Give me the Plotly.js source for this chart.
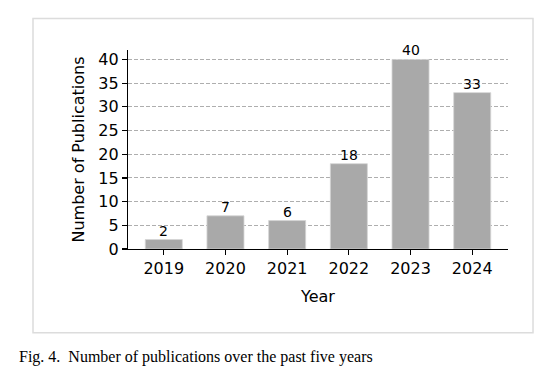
<!DOCTYPE html>
<html>
<head>
<meta charset="utf-8">
<script src="https://cdn.plot.ly/plotly-3.0.1.min.js"></script>
<style>html,body{margin:0;padding:0;background:#fff;}#chart{width:544px;height:384px;}</style>
</head>
<body>
<div id="chart"></div>
<script>
const years = ["2019", "2020", "2021", "2022", "2023", "2024"];
const publications = [2, 7, 6, 18, 40, 33];
const yTicks = [0, 5, 10, 15, 20, 25, 30, 35, 40];
const xTitle = "Year";
const yTitle = "Number of Publications";
const caption = "Fig. 4.&nbsp;&nbsp;Number of publications over the past five years";

const trace = {
  type: "bar",
  x: years,
  y: publications,
  width: 0.6,
  marker: {color: "#a9a9a9", line: {color: "#d4d4d4", width: 0.8}},
  hoverinfo: "none"
};

const barLabels = years.map((yr, i) => ({
  x: i, y: publications[i], xref: "x", yref: "y",
  text: String(publications[i]),
  xanchor: "center", yanchor: "bottom",
  showarrow: false, borderpad: 0, yshift: 0,
  font: {family: "DejaVu Sans", size: 14, color: "#000"}
}));

const layout = {
  width: 544,
  height: 384,
  margin: {l: 128, r: 36, t: 50, b: 135},
  paper_bgcolor: "#fff",
  plot_bgcolor: "#fff",
  showlegend: false,
  font: {family: "DejaVu Sans", size: 16, color: "#000"},
  xaxis: {
    type: "category",
    range: [-0.58, 5.58],
    showline: true, linecolor: "#000", linewidth: 1.2,
    ticks: "outside", ticklen: 5, tickcolor: "#000", tickwidth: 1.2,
    showgrid: false, zeroline: false,
    tickfont: {family: "DejaVu Sans", size: 16, color: "#000"},
    title: {text: xTitle, font: {family: "DejaVu Sans", size: 16, color: "#000"}, standoff: 13}
  },
  yaxis: {
    range: [0, 42],
    tickvals: yTicks,
    showline: true, linecolor: "#000", linewidth: 1.2,
    ticks: "outside", ticklen: 5, tickcolor: "#000", tickwidth: 1.2,
    showgrid: true, gridcolor: "#9a9a9a", gridwidth: 0.8, griddash: "4px,2px",
    zeroline: false,
    tickfont: {family: "DejaVu Sans", size: 16, color: "#000"},
    title: {text: yTitle, font: {family: "DejaVu Sans", size: 16, color: "#000"}, standoff: 9}
  },
  shapes: [{
    type: "rect", xref: "paper", yref: "paper",
    x0: -0.25, x1: 1.0658, y0: -0.421, y1: 1.1579,
    line: {color: "#dcdcdc", width: 1.5}, fillcolor: "rgba(0,0,0,0)", layer: "below"
  }],
  annotations: barLabels.concat([{
    text: caption, xref: "paper", yref: "paper",
    x: -0.292, y: -0.541, xanchor: "left", yanchor: "middle",
    showarrow: false,
    font: {family: "Liberation Serif", size: 16, color: "#000"}
  }])
};

Plotly.newPlot("chart", [trace], layout, {displayModeBar: false, staticPlot: true});
</script>
</body>
</html>
